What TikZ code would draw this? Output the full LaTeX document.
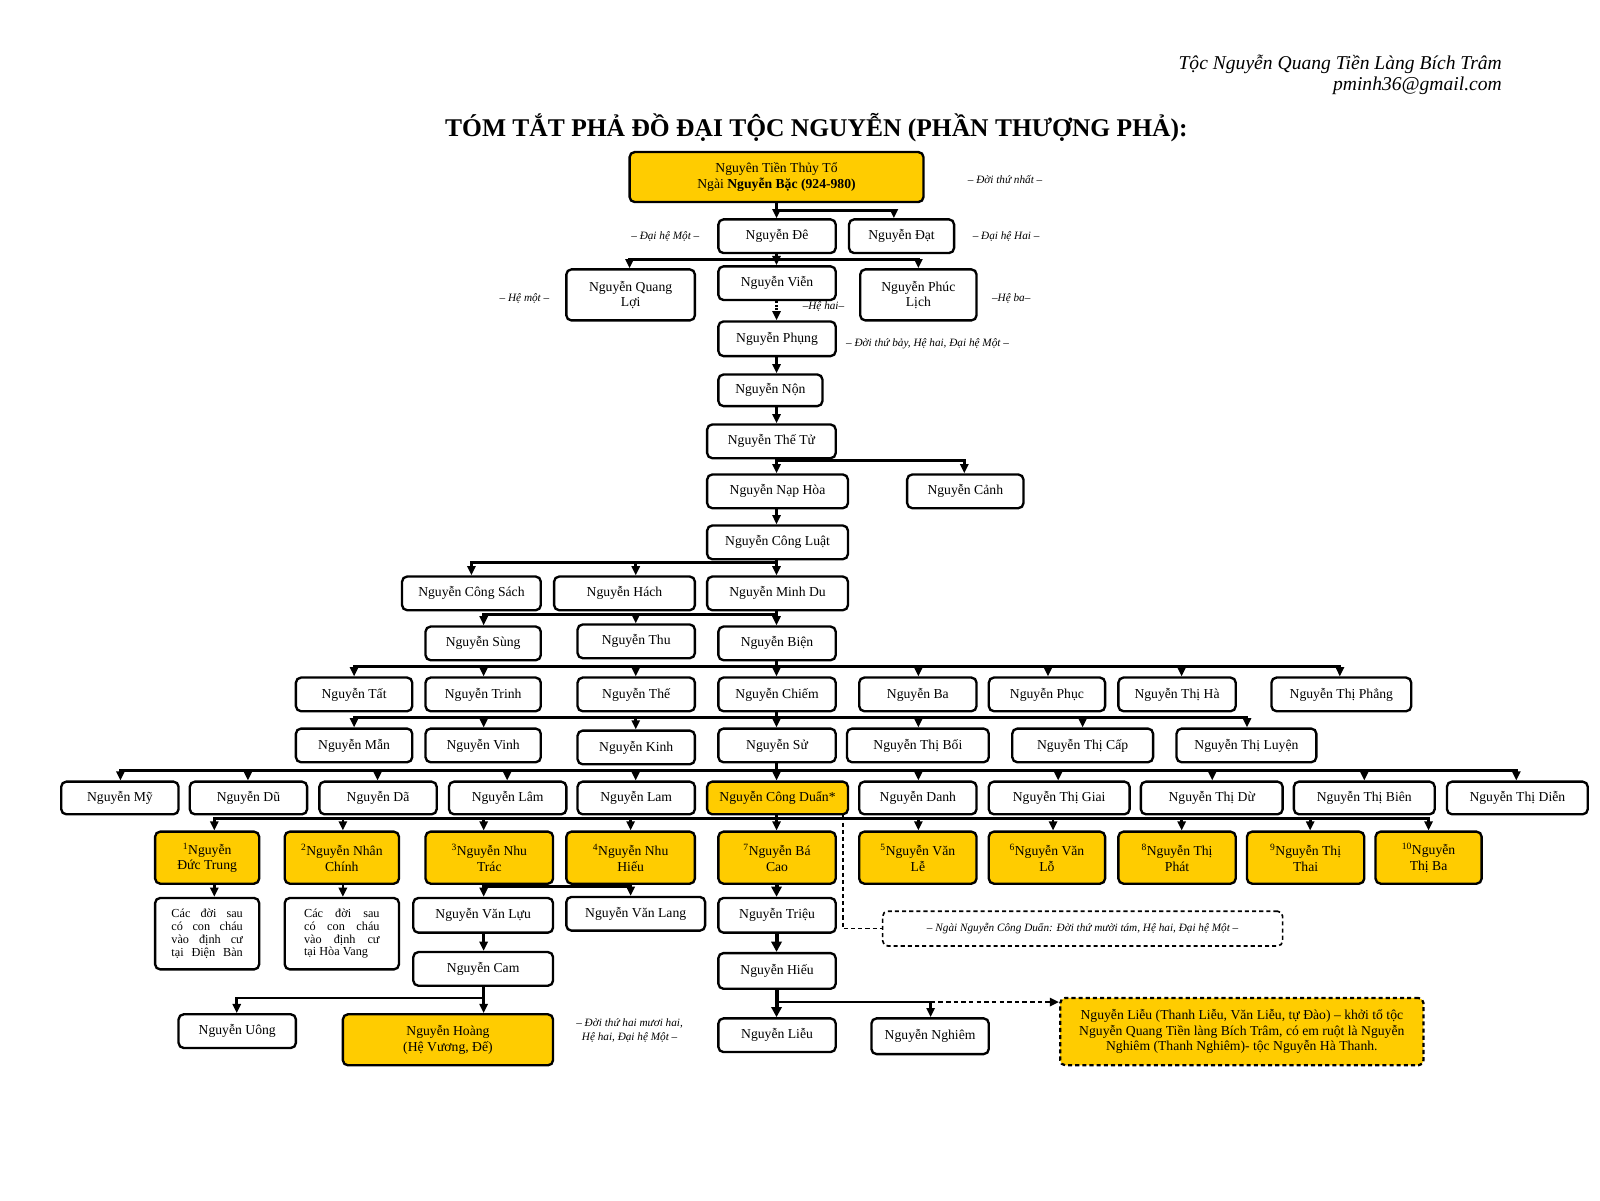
\documentclass[tikz,border=0pt]{standalone}
\usepackage{fontspec}
\setmainfont{Liberation Serif}
\usetikzlibrary{arrows.meta}
\definecolor{gold}{HTML}{FFCC00}
\newcommand{\nbox}[7][]{\node[box,minimum width={(#4)-(#3)},minimum height={(#6)-(#5)},#1] (#2) at ({((#3)+(#4))/2},{((#5)+(#6))/2}) {#7};}
\tikzset{
  box/.style={draw, line width=2.3pt, rounded corners=5pt, fill=white, align=center, inner sep=0pt, font=\fontsize{13.4}{15}\selectfont},
  gbox/.style={fill=gold},
  dbox/.style={dash pattern=on 4pt off 3pt, line width=1.6pt},
  conn/.style={line width=2.6pt, -{Triangle[length=9pt,width=8pt]}},
  hconn/.style={line width=4pt, -{Triangle[length=10pt,width=10pt]}},
  dconn/.style={conn, dash pattern=on 4.5pt off 3pt},
  vconn/.style={conn, dash pattern=on 2pt off 1.5pt, line width=2.8pt},
  dline/.style={line width=1.4pt, dash pattern=on 4pt off 3pt},
  lbl/.style={font=\fontsize{11}{13}\selectfont\itshape, inner sep=0pt, align=center},
  hdr/.style={font=\fontsize{19.2}{21}\selectfont\itshape, inner sep=0pt},
  ttl/.style={font=\fontsize{25}{28}\selectfont\bfseries, inner sep=0pt},
}
\begin{document}
\begin{tikzpicture}[x=1pt,y=-1pt]
\useasboundingbox (0,0) rectangle (1568,1176);
\node[hdr, anchor=east] (h1) at (1472,63) {Tộc Nguyễn Quang Tiền Làng Bích Trâm};
\node[hdr, anchor=east] (h2) at (1472,84) {pminh36@gmail.com};
\node[ttl] (title) at (800,125) {TÓM TẮT PHẢ ĐỒ ĐẠI TỘC NGUYỄN (PHẦN THƯỢNG PHẢ):};
% generation labels
\node[lbl] (l1) at (985,176) {– Đời thứ nhất –};
\node[lbl] (l2) at (652,232) {– Đại hệ Một –};
\node[lbl] (l3) at (986,232) {– Đại hệ Hai –};
\node[lbl] (l4) at (514,293) {– Hệ một –};
\node[lbl] (l5) at (807,300) {–Hệ hai–};
\node[lbl] (l6) at (991,293) {–Hệ ba–};
\node[lbl] (l7) at (909,337) {– Đời thứ bảy, Hệ hai, Đại hệ Một –};
\node[lbl] (l8) at (617,1010) {– Đời thứ hai mươi hai,\\Hệ hai, Đại hệ Một –};
% nodes
\nbox[gbox]{top}{617}{905}{149}{198}{Nguyên Tiền Thủy Tổ\\Ngài \textbf{Nguyễn Bặc (924-980)}}
\nbox{de}{704}{819}{215}{248}{Nguyễn Đê}
\nbox{dat}{832}{935}{215}{248}{Nguyễn Đạt}
\nbox{qloi}{555}{681}{264}{314}{Nguyễn Quang\\Lợi}
\nbox{vien}{704}{819}{261}{294}{Nguyễn Viễn}
\nbox{plich}{843}{957}{264}{314}{Nguyễn Phúc\\Lịch}
\nbox{phung}{704}{819}{315}{349}{Nguyễn Phụng}
\nbox{non}{704}{806}{367}{398}{Nguyễn Nộn}
\nbox{thetu}{693}{819}{416}{449}{Nguyễn Thế Tử}
\nbox{naphoa}{693}{831}{465}{498}{Nguyễn Nạp Hòa}
\nbox{canh}{889}{1003}{465}{498}{Nguyễn Cảnh}
\nbox{congluat}{693}{831}{515}{548}{Nguyễn Công Luật}
\nbox{congsach}{394}{530}{565}{598}{Nguyễn Công Sách}
\nbox{hach}{543}{681}{565}{598}{Nguyễn Hách}
\nbox{minhdu}{693}{831}{565}{598}{Nguyễn Minh Du}
\nbox{sung}{417}{530}{614}{647}{Nguyễn Sùng}
\nbox{thu}{566}{681}{612}{645}{Nguyễn Thu}
\nbox{bien}{704}{819}{614}{647}{Nguyễn Biện}
% row 664
\nbox{tat}{290}{404}{664}{697}{Nguyễn Tất}
\nbox{trinh}{417}{530}{664}{697}{Nguyễn Trinh}
\nbox{the}{566}{681}{664}{697}{Nguyễn Thế}
\nbox{chiem}{704}{819}{664}{697}{Nguyễn Chiếm}
\nbox{ba}{842}{957}{664}{697}{Nguyễn Ba}
\nbox{phuc}{969}{1083}{664}{697}{Nguyễn Phục}
\nbox{thiha}{1096}{1211}{664}{697}{Nguyễn Thị Hà}
\nbox{thiphang}{1246}{1383}{664}{697}{Nguyễn Thị Phẳng}
% row 714
\nbox{man}{290}{404}{714}{747}{Nguyễn Mẫn}
\nbox{vinh}{417}{530}{714}{747}{Nguyễn Vinh}
\nbox{kinh}{566}{681}{716}{749}{Nguyễn Kinh}
\nbox{su}{704}{819}{714}{747}{Nguyễn Sử}
\nbox{thiboi}{830}{969}{714}{747}{Nguyễn Thị Bối}
\nbox{thicap}{992}{1130}{714}{747}{Nguyễn Thị Cấp}
\nbox{thiluyen}{1153}{1290}{714}{747}{Nguyễn Thị Luyện}
% row 766
\nbox{my}{60}{175}{766}{798}{Nguyễn Mỹ}
\nbox{du}{186}{301}{766}{798}{Nguyễn Dũ}
\nbox{da}{313}{428}{766}{798}{Nguyễn Dã}
\nbox{lam}{440}{555}{766}{798}{Nguyễn Lâm}
\nbox{lamb}{566}{681}{766}{798}{Nguyễn Lam}
\nbox[gbox]{cduan}{693}{831}{766}{798}{Nguyễn Công Duẩn*}
\nbox{danh}{842}{957}{766}{798}{Nguyễn Danh}
\nbox{thigiai}{969}{1107}{766}{798}{Nguyễn Thị Giai}
\nbox{thidu}{1118}{1257}{766}{798}{Nguyễn Thị Dừ}
\nbox{thibien}{1268}{1406}{766}{798}{Nguyễn Thị Biên}
\nbox{thidien}{1418}{1556}{766}{798}{Nguyễn Thị Diễn}
% row 815 (yellow)
\nbox[gbox]{ductrung}{152}{254}{815}{866}{\textsuperscript{1}Nguyễn\\Đức Trung}
\nbox[gbox]{nhanchinh}{279}{391}{815}{866}{\textsuperscript{2}Nguyễn Nhân\\Chính}
\nbox[gbox]{nhutrac}{417}{542}{815}{866}{\textsuperscript{3}Nguyễn Nhu\\Trác}
\nbox[gbox]{nhuhieu}{555}{681}{815}{866}{\textsuperscript{4}Nguyễn Nhu\\Hiếu}
\nbox[gbox]{bacao}{704}{819}{815}{866}{\textsuperscript{7}Nguyễn Bá\\Cao}
\nbox[gbox]{vanle}{842}{957}{815}{866}{\textsuperscript{5}Nguyễn Văn\\Lễ}
\nbox[gbox]{vanlo}{969}{1083}{815}{866}{\textsuperscript{6}Nguyễn Văn\\Lỗ}
\nbox[gbox]{thiphat}{1096}{1211}{815}{866}{\textsuperscript{8}Nguyễn Thị\\Phát}
\nbox[gbox]{thithai}{1222}{1337}{815}{866}{\textsuperscript{9}Nguyễn Thị\\Thai}
\nbox[gbox]{thiba}{1348}{1452}{815}{866}{\textsuperscript{10}Nguyễn\\Thị Ba}
% lower
\nbox{cd1}{152}{254}{880}{950}{\parbox{70pt}{\fontsize{12}{12.6}\selectfont Các\hfill đời\hfill sau\\có\hfill con\hfill cháu\\vào\hfill định\hfill cư\\tại\hfill Điện\hfill Bàn}}
\nbox{cd2}{279}{391}{880}{950}{\parbox{74pt}{\fontsize{12}{12.6}\selectfont Các\hfill đời\hfill sau\\có\hfill con\hfill cháu\\vào\hfill định\hfill cư\\tại Hòa Vang\hfill\null}}
\nbox{vanluu}{405}{542}{880}{914}{Nguyễn Văn Lựu}
\nbox{vanlang}{555}{691}{879}{912}{Nguyễn Văn Lang}
\nbox{cam}{405}{542}{933}{966}{Nguyễn Cam}
\nbox{uong}{175}{290}{994}{1027}{Nguyễn Uông}
\nbox[gbox]{hoang}{336}{542}{994}{1044}{Nguyễn Hoàng\\(Hệ Vương, Đế)}
\nbox{trieu}{704}{819}{880}{914}{Nguyễn Triệu}
\nbox{hieu}{704}{819}{934}{969}{Nguyễn Hiếu}
\nbox{lieu}{704}{819}{998}{1031}{Nguyễn Liễu}
\nbox{nghiem}{854}{969}{998}{1033}{Nguyễn Nghiêm}
\nbox[gbox,dbox,line width=2.2pt]{lieunote}{1039}{1395}{978}{1044}{Nguyễn Liễu (Thanh Liễu, Văn Liễu, tự Đào) – khởi tổ tộc\\Nguyễn Quang Tiền làng Bích Trâm, có em ruột là Nguyễn\\Nghiêm (Thanh Nghiêm)- tộc Nguyễn Hà Thanh.}
\nbox[dbox,font=\fontsize{11}{13}\selectfont\itshape]{duannote}{865}{1257}{893}{927}{– Ngài Nguyễn Công Duẩn: Đời thứ mười tám, Hệ hai, Đại hệ Một –}
% connectors
\foreach \c/\cx in {de/761,dat/876}
  \draw[conn] (top.south -| 761,0) -- (761,206) -| (\c.north -| \cx,0);
\foreach \c/\cx in {qloi/617,vien/761,plich/900}
  \draw[conn] (de.south -| 761,0) -- (761,254) -| (\c.north -| \cx,0);
\draw[vconn] (vien.south -| 761,0) -- (phung.north -| 761,0);
\draw[conn] (phung.south -| 761,0) -- (non.north -| 761,0);
\draw[conn] (non.south -| 761,0) -- (thetu.north -| 761,0);
\foreach \c/\cx in {naphoa/761,canh/945}
  \draw[conn] (thetu.south -| 761,0) -- (761,451) -| (\c.north -| \cx,0);
\draw[conn] (naphoa.south -| 761,0) -- (congluat.north -| 761,0);
\foreach \c/\cx in {congsach/462,hach/623,minhdu/761}
  \draw[conn] (congluat.south -| 761,0) -- (761,551) -| (\c.north -| \cx,0);
\foreach \c/\cx in {sung/474,thu/623,bien/761}
  \draw[conn] (minhdu.south -| 761,0) -- (761,602) -| (\c.north -| \cx,0);
\foreach \c/\cx in {tat/347,trinh/474,the/623,chiem/761,ba/900,phuc/1027,thiha/1158,thiphang/1313}
  \draw[conn] (bien.south -| 761,0) -- (761,653) -| (\c.north -| \cx,0);
\foreach \c/\cx in {man/347,vinh/474,kinh/623,su/761,thiboi/900,thicap/1061,thiluyen/1222}
  \draw[conn] (chiem.south -| 761,0) -- (761,703) -| (\c.north -| \cx,0);
\foreach \c/\cx in {my/118,du/243,da/370,lam/497,lamb/623,cduan/761,danh/900,thigiai/1037,thidu/1188,thibien/1337,thidien/1486}
  \draw[conn] (su.south -| 761,0) -- (761,755) -| (\c.north -| \cx,0);
\foreach \c/\cx in {ductrung/210,nhanchinh/336,nhutrac/474,nhuhieu/618,bacao/761,vanle/900,vanlo/1032,thiphat/1158,thithai/1284,thiba/1400}
  \draw[conn] (cduan.south -| 761,0) -- (761,802) -| (\c.north -| \cx,0);
\draw[conn] (ductrung.south -| 210,0) -- (cd1.north -| 210,0);
\draw[conn] (nhanchinh.south -| 336,0) -- (cd2.north -| 336,0);
\foreach \c/\cx in {vanluu/474,vanlang/618}
  \draw[conn] (nhutrac.south -| 474,0) -- (474,869) -| (\c.north -| \cx,0);
\draw[conn] (vanluu.south -| 474,0) -- (cam.north -| 474,0);
\foreach \c/\cx in {uong/232,hoang/474}
  \draw[conn] (cam.south -| 474,0) -- (474,978) -| (\c.north -| \cx,0);
\draw[hconn] (bacao.south -| 761,0) -- (trieu.north -| 761,0);
\draw[hconn] (trieu.south -| 761,0) -- (hieu.north -| 761,0);
\coordinate (hj) at (912,982);
\draw[conn] (hj -| 761,0) -| (nghiem.north -| 912,0);
\draw[hconn] (hieu.south -| 761,0) -- (lieu.north -| 761,0);
\draw[dconn] (hj) -- (lieunote.west |- hj);
\draw[dline] (cduan.south -| 826,0) -- (826,910) -- (duannote.west |- 0,910);
\end{tikzpicture}
\end{document}
